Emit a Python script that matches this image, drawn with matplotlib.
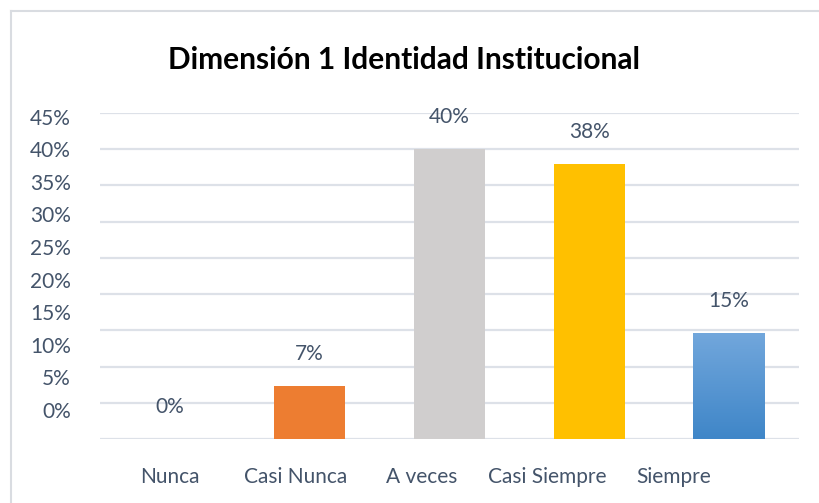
import numpy as np
import matplotlib
matplotlib.use("Agg")
import matplotlib.pyplot as plt
from matplotlib.lines import Line2D

# data
categories = ["Nunca", "Casi Nunca", "A veces", "Casi Siempre", "Siempre"]
percent_values = [0.0, 7.3, 40.0, 37.9, 14.7]
bar_colors = ["#ED7D31", "#ED7D31", "#D0CECE", "#FFC000", "#5B9BD5"]
ytick_labels = ["0%", "5%", "10%", "15%", "20%", "25%", "30%", "35%", "40%", "45%"]
title = "Dimensión 1 Identidad Institucional"

TEXT_COLOR = "#44546A"
GRID_COLOR = "#DDE1E8"
FONT = "Lato"
LABEL_SIZE = 15
TEXT_SCALE = 0.9   # the label layer of the original is shrunk relative to the plot

fig = plt.figure(figsize=(8.2, 5.03), dpi=100)
fig.patch.set_facecolor("white")
ax = fig.add_axes([100 / 820, 1 - 439 / 503, 699 / 820, 326 / 503])

x = np.arange(len(categories))
bars = ax.bar(x, percent_values, width=0.51, color=bar_colors, zorder=3)

# gradient fill for the last bar (Excel style), lighter at the top
last = bars[-1]
bx, by = last.get_x(), last.get_y()
bw, bh = last.get_width(), last.get_height()
grad = np.linspace(0, 1, 100).reshape(-1, 1)
cmap = matplotlib.colors.LinearSegmentedColormap.from_list("blu", ["#3F86C8", "#72A7DC"])
im = ax.imshow(grad, extent=[bx, bx + bw, by, by + bh], aspect="auto",
               cmap=cmap, origin="lower", zorder=4)
im.set_clip_path(last)

# gridlines every 5%
for g in range(0, 50, 5):
    ax.axhline(g, color=GRID_COLOR, lw=1.6, zorder=1)

ax.set_xlim(-0.5, len(categories) - 0.5)
ax.set_ylim(0, 45)
for s in ax.spines.values():
    s.set_visible(False)

# tick labels sit on a slightly shrunk grid, like in the original export
ax.set_yticks([4 + TEXT_SCALE * 5 * k for k in range(len(ytick_labels))])
ax.set_yticklabels(ytick_labels)
ax.set_xticks(x * TEXT_SCALE)
ax.set_xticklabels(categories)
ax.tick_params(axis="y", length=0, pad=21, labelsize=LABEL_SIZE, labelcolor=TEXT_COLOR)
ax.tick_params(axis="x", length=0, pad=20, labelsize=LABEL_SIZE, labelcolor=TEXT_COLOR)
for lab in ax.get_xticklabels() + ax.get_yticklabels():
    lab.set_fontfamily(FONT)

for xi, v in zip(x, percent_values):
    ax.annotate(f"{v:.0f}%", (xi, v), xytext=(0, 23), textcoords="offset points",
                ha="center", va="center", fontsize=LABEL_SIZE, color=TEXT_COLOR,
                family=FONT, zorder=5)

fig.text(404 / 820, 1 - 60 / 503, title, ha="center", va="center",
         fontsize=21.5, fontweight="bold", family=FONT, color="black")

# outer chart frame (cut off at right and bottom)
fig.add_artist(Line2D([11 / 820, 11 / 820], [0, 1 - 11 / 503], color="#D9DCE1", lw=1.5))
fig.add_artist(Line2D([11 / 820, 1], [1 - 11 / 503, 1 - 11 / 503], color="#D9DCE1", lw=1.5))

fig.savefig("out.png", dpi=100, facecolor="white")
